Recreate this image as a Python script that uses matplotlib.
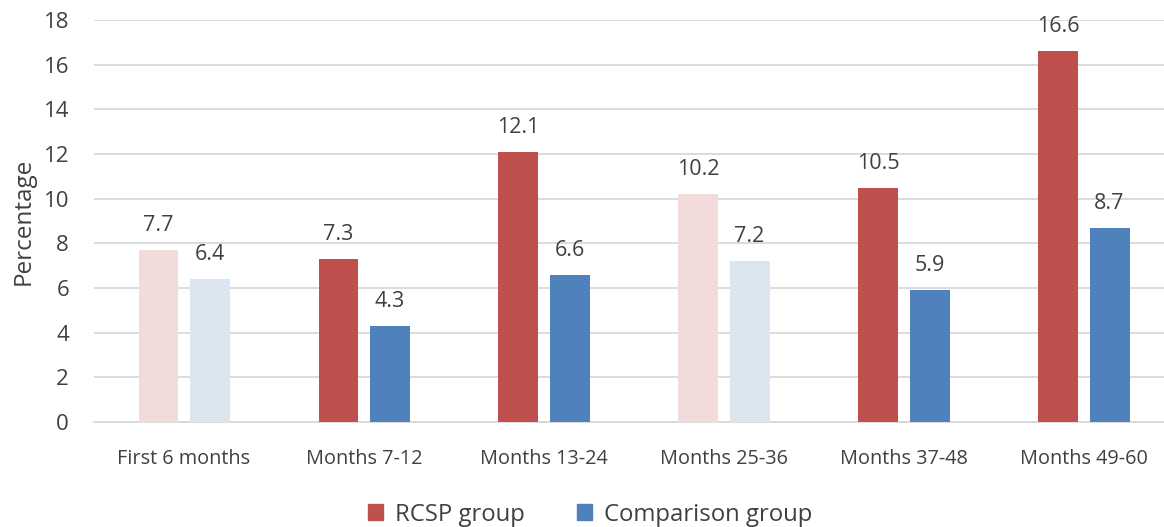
import matplotlib.pyplot as plt
import numpy as np
from matplotlib.patches import Patch

plt.rcParams["font.family"] = ["Open Sans", "DejaVu Sans"]

categories = ["First 6 months", "Months 7-12", "Months 13-24",
              "Months 25-36", "Months 37-48", "Months 49-60"]
rcsp = [7.7, 7.3, 12.1, 10.2, 10.5, 16.6]
comparison = [6.4, 4.3, 6.6, 7.2, 5.9, 8.7]
faded = [True, False, False, True, False, False]

RED, BLUE = "#C0504D", "#4F81BD"
RED_LIGHT, BLUE_LIGHT = "#F2DCDB", "#DCE6F1"
TEXT = "#404040"

fig = plt.figure(figsize=(11.64, 5.27), dpi=100)
# plot area runs slightly past the right edge, like the source
ax = fig.add_axes([0.0808, 0.199, 0.9278, 0.763])

x = np.arange(len(categories))
w = 0.222
off = 0.142

red_cols = [RED_LIGHT if f else RED for f in faded]
blue_cols = [BLUE_LIGHT if f else BLUE for f in faded]

b1 = ax.bar(x - off, rcsp, w, color=red_cols, zorder=3)
b2 = ax.bar(x + off, comparison, w, color=blue_cols, zorder=3)

for bars, vals in ((b1, rcsp), (b2, comparison)):
    for r, v in zip(bars, vals):
        ax.annotate(f"{v:.1f}", (r.get_x() + r.get_width() / 2, v),
                    xytext=(0, 10), textcoords="offset points",
                    ha="center", va="bottom", fontsize=15.5, color=TEXT)

ax.set_xlim(-0.5, len(categories) - 0.5)
ax.set_ylim(0, 18)
ax.set_yticks(range(0, 19, 2))
ax.set_xticks(x)
ax.set_xticklabels(categories, fontsize=14.3, color=TEXT)
ax.tick_params(axis="y", labelsize=16, labelcolor=TEXT, length=0, pad=18)
ax.tick_params(axis="x", length=0, pad=19)
ax.set_ylabel("Percentage", fontsize=17.5, color=TEXT, labelpad=6)

ax.grid(axis="y", color="#D9D9D9", linewidth=1.3, zorder=0)
for s in ["top", "right", "left"]:
    ax.spines[s].set_visible(False)
ax.spines["bottom"].set_color("#D9D9D9")
ax.spines["bottom"].set_linewidth(1.3)

handles = [Patch(color=RED, label="RCSP group"),
           Patch(color=BLUE, label="Comparison group")]
leg = fig.legend(handles=handles, loc="lower center", ncol=2,
                 bbox_to_anchor=(0.507, -0.04), frameon=False,
                 fontsize=17.2, handlelength=0.62, handleheight=0.62,
                 columnspacing=2.2, handletextpad=0.5)
for t in leg.get_texts():
    t.set_color(TEXT)

fig.savefig("out.png", dpi=100)
